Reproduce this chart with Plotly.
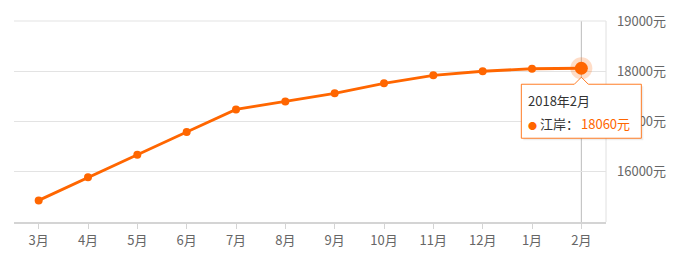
import plotly.graph_objects as go

months = ["3月", "4月", "5月", "6月", "7月", "8月", "9月", "10月", "11月", "12月", "1月", "2月"]
prices = [15430, 15890, 16340, 16790, 17240, 17400, 17560, 17760, 17920, 18000, 18050, 18060]
y_ticks = [16000, 17000, 18000, 19000]
y_tick_text = ["16000元", "17000元", "18000元", "19000元"]
y_range = [15000, 19000]
series_name = "江岸"
hover_title = "2018年2月"

ORANGE = "#ff6600"
FONT = "Noto Sans CJK SC, Microsoft YaHei, sans-serif"

fig = go.Figure()
fig.add_trace(go.Scatter(
    x=months, y=prices, mode="lines+markers",
    line=dict(color=ORANGE, width=2.8),
    marker=dict(color=ORANGE, size=8),
    showlegend=False, hoverinfo="skip",
))
fig.add_trace(go.Scatter(
    x=[months[-1]], y=[prices[-1]], mode="markers",
    marker=dict(color="rgba(255,102,0,0.22)", size=22),
    showlegend=False, hoverinfo="skip",
))
fig.add_trace(go.Scatter(
    x=[months[-1]], y=[prices[-1]], mode="markers",
    marker=dict(color=ORANGE, size=13),
    showlegend=False, hoverinfo="skip",
))

fig.add_shape(type="line", xref="x", yref="paper", x0=months[-1], x1=months[-1], y0=0, y1=1,
              line=dict(color="#bbbbbb", width=1), layer="below")
fig.add_shape(type="line", xref="paper", yref="paper", x0=1, x1=1, y0=0, y1=1,
              line=dict(color="#e0e0e0", width=1), layer="below")
fig.add_shape(type="line", xref="paper", yref="paper", x0=0, x1=1, y0=1, y1=1,
              line=dict(color="#e3e3e3", width=1), layer="below")

ax = (len(months) - 1 + 0.5) / len(months)
ay = (prices[-1] - y_range[0]) / (y_range[1] - y_range[0])

def callout(dx, dy):
    pts = [(-60, -16), (-7, -16), (0, -9), (7, -16), (60, -16), (60, -70), (-60, -70)]
    return "M " + " L ".join(f"{x + dx},{y + dy}" for x, y in pts) + " Z"

fig.add_shape(type="path", xref="paper", yref="paper", xsizemode="pixel", ysizemode="pixel",
              xanchor=ax, yanchor=ay, path=callout(2, -2),
              fillcolor="rgba(0,0,0,0.07)", line=dict(width=0), layer="above")
fig.add_shape(type="path", xref="paper", yref="paper", xsizemode="pixel", ysizemode="pixel",
              xanchor=ax, yanchor=ay, path=callout(0, 0),
              fillcolor="white", line=dict(color="rgba(255,102,0,0.85)", width=1), layer="above")

fig.add_annotation(x=ax, y=ay, xref="paper", yref="paper", text=hover_title,
                   showarrow=False, xanchor="left", yanchor="middle", xshift=-55, yshift=-32,
                   font=dict(family=FONT, size=13, color="#333333"))
fig.add_annotation(x=ax, y=ay, xref="paper", yref="paper",
                   text=f"<span style='color:{ORANGE};font-size:9px'>●</span> {series_name}：",
                   showarrow=False, xanchor="left", yanchor="middle", xshift=-55, yshift=-55,
                   font=dict(family=FONT, size=13, color="#333333"))
fig.add_annotation(x=ax, y=ay, xref="paper", yref="paper",
                   text=f"{prices[-1]}元",
                   showarrow=False, xanchor="left", yanchor="middle", xshift=-2, yshift=-55,
                   font=dict(family=FONT, size=13, color=ORANGE))

fig.update_layout(
    width=679, height=254,
    margin=dict(l=14, r=73, t=21, b=32),
    paper_bgcolor="white", plot_bgcolor="white",
    font=dict(family=FONT, size=13, color="#666666"),
    xaxis=dict(
        type="category", range=[-0.5, len(months) - 0.5], automargin=False,
        showline=True, linecolor="#d4d4d4", linewidth=2,
        ticks="outside", ticklen=5, tickcolor="#d4d4d4",
        showgrid=False, tickfont=dict(size=13, color="#666666"),
    ),
    yaxis=dict(
        side="right", range=y_range, tickvals=y_ticks, ticktext=y_tick_text, automargin=False,
        showgrid=True, gridcolor="#e3e3e3", gridwidth=1, zeroline=False,
        showline=False, ticks="", ticklabelstandoff=10,
        tickfont=dict(size=13, color="#666666"),
    ),
)

fig.write_html("out.html")
